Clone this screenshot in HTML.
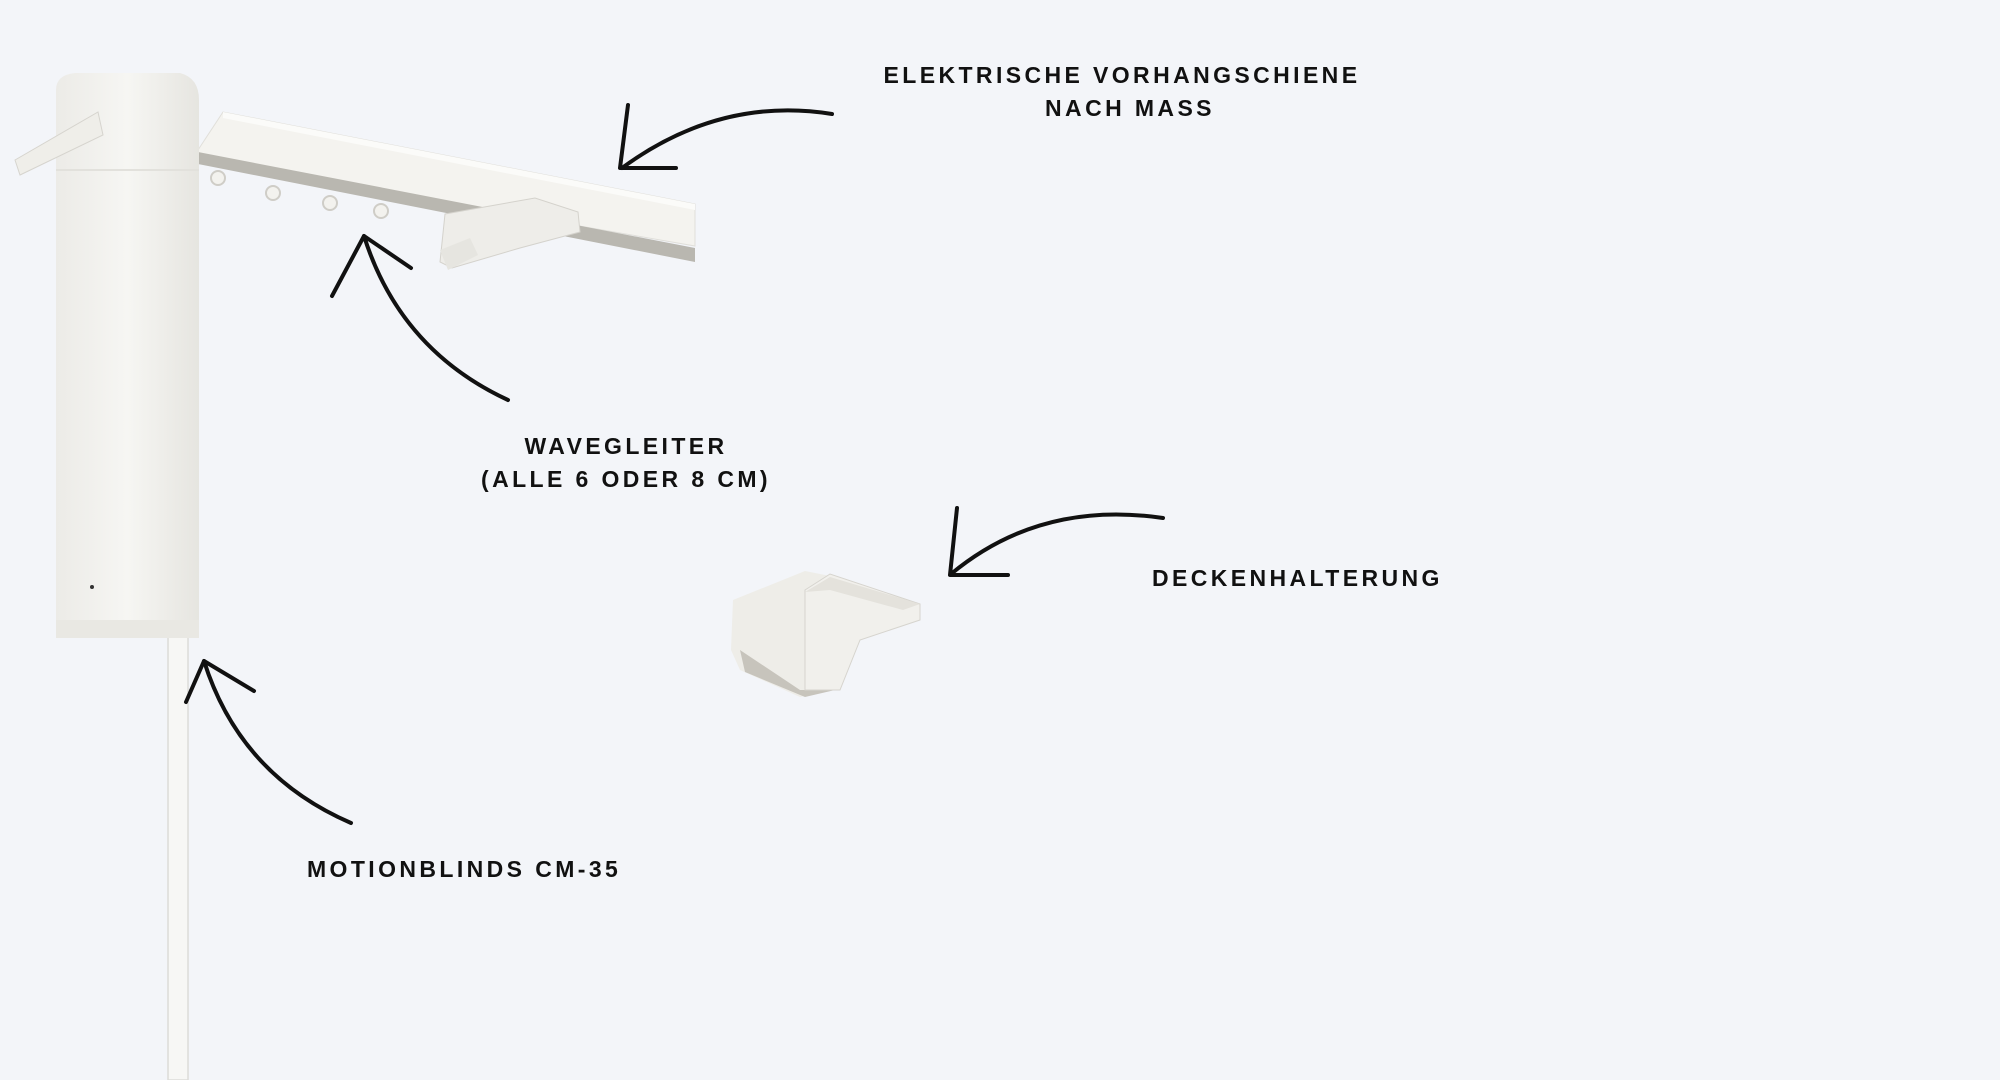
<!DOCTYPE html>
<html><head><meta charset="utf-8"><style>
html,body{margin:0;padding:0;background:#f3f5f9;}
svg{display:block}
text{font-family:"Liberation Sans",sans-serif;font-weight:bold;fill:#111;letter-spacing:3.4px;font-size:23px}
</style></head><body>
<svg width="2000" height="1080" viewBox="0 0 2000 1080" xmlns="http://www.w3.org/2000/svg">
<defs>
<linearGradient id="col" x1="0" x2="1"><stop offset="0" stop-color="#ecebe7"/><stop offset="0.5" stop-color="#f6f6f3"/><stop offset="1" stop-color="#e6e5e0"/></linearGradient>
</defs>
<rect width="2000" height="1080" fill="#f3f5f9"/>
<rect x="168" y="636" width="20" height="444" fill="#f7f7f5" stroke="#dcdcd8" stroke-width="1.5"/>
<polygon points="198,150 223,112 695,204 695,246 198,160" fill="#f4f3ef" stroke="#e0dfda"/>
<polygon points="198,152 695,248 695,262 198,164" fill="#b9b7b0"/>
<polygon points="223,112 695,204 695,210 223,118" fill="#fbfbf9"/>
<g fill="#f3f2ee" stroke="#cfcdc7" stroke-width="2">
<circle cx="218" cy="178" r="7"/><circle cx="273" cy="193" r="7"/><circle cx="330" cy="203" r="7"/><circle cx="381" cy="211" r="7"/>
</g>
<polygon points="445,214 535,198 578,212 580,232 520,248 452,268 440,262" fill="#eeede9" stroke="#d4d2cc"/>
<polygon points="440,250 470,238 478,255 448,270" fill="#e6e5e0"/>
<path d="M56,90 Q56,75 75,73 L180,73 Q199,78 199,100 L199,630 Q199,638 190,638 L64,638 Q56,638 56,630 Z" fill="url(#col)"/>
<line x1="56" y1="170" x2="199" y2="170" stroke="#e2e1dc" stroke-width="2"/>
<rect x="56" y="620" width="143" height="18" fill="#e9e8e3"/>
<circle cx="92" cy="587" r="2" fill="#333"/>
<polygon points="15,160 98,112 103,135 20,175" fill="#efeee9" stroke="#d6d4ce"/>
<g>
<polygon points="733,600 805,571 830,576 835,690 800,697 740,670 731,650" fill="#eeede8"/>
<polygon points="740,650 800,690 835,690 805,697 745,672" fill="#c7c4bc"/>
<polygon points="805,590 830,574 920,604 920,620 860,640 840,690 805,690" fill="#f1f0ec" stroke="#d6d4ce"/>
<polygon points="805,592 830,577 920,604 903,610 830,590" fill="#e4e2dc"/>
</g>
<g fill="none" stroke="#111" stroke-width="4" stroke-linecap="round" stroke-linejoin="round">
<path d="M832,114 Q720,96 622,168"/><path d="M628,105 L620,168 L676,168"/>
<path d="M508,400 Q400,350 364,236"/><path d="M332,296 L364,236 L411,268"/>
<path d="M1163,518 Q1040,500 951,574"/><path d="M957,508 L950,575 L1008,575"/>
<path d="M351,823 Q240,775 204,661"/><path d="M186,702 L204,661 L254,691"/>
</g>
<text x="1122" y="83" text-anchor="middle">ELEKTRISCHE VORHANGSCHIENE</text>
<text x="1130" y="116" text-anchor="middle">NACH MASS</text>
<text x="626" y="454" text-anchor="middle">WAVEGLEITER</text>
<text x="626" y="487" text-anchor="middle">(ALLE 6 ODER 8 CM)</text>
<text x="1152" y="586">DECKENHALTERUNG</text>
<text x="307" y="877">MOTIONBLINDS CM-35</text>
</svg>
</body></html>
